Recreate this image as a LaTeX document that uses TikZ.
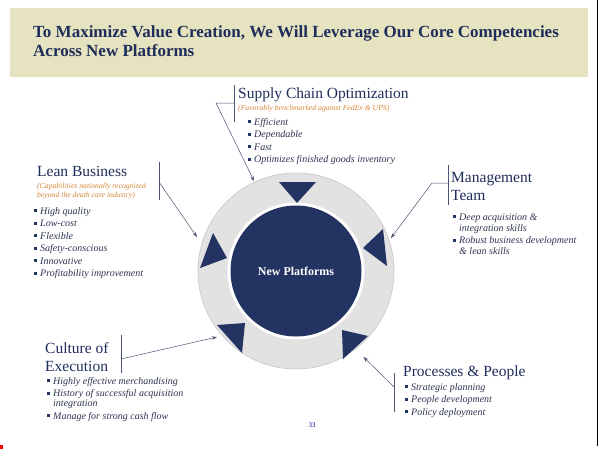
\documentclass[tikz,border=0pt]{standalone}
\usepackage{fontspec}
\setmainfont{Liberation Serif}
\usetikzlibrary{arrows.meta, positioning}
\definecolor{banner}{RGB}{230,228,192}
\definecolor{navy}{RGB}{31,45,90}
\definecolor{deepnavy}{RGB}{35,52,99}
\definecolor{txtgray}{RGB}{45,52,80}
\definecolor{subor}{RGB}{214,134,56}
\definecolor{linec}{RGB}{75,85,115}
\definecolor{ringgray}{RGB}{226,226,226}
\newcommand{\bsq}{\makebox[6pt][l]{\textcolor{deepnavy}{\rule[0.2em]{3pt}{3pt}}}}
\newcommand{\nsq}{\hspace*{6pt}}
\tikzset{
  head/.style={anchor=base west, inner sep=0pt, text=navy, font=\fontsize{15.5}{18}\selectfont},
  sub/.style={anchor=base west, inner sep=0pt, text=subor, font=\fontsize{7.7}{9}\selectfont\itshape},
  item/.style={anchor=base west, inner sep=0pt, text=txtgray, font=\fontsize{10}{12}\selectfont\itshape},
  bar/.style={linec, line width=0.8pt},
  conn/.style={linec, line width=0.5pt, -{Stealth[length=5pt,width=3.5pt]}},
  tri/.style={fill=deepnavy},
}
\begin{document}
\begin{tikzpicture}[x=1pt,y=-1pt]
\useasboundingbox (0,0) rectangle (599,450);
\fill[white] (0,0) rectangle (599,450);
% banner
\fill[banner] (10,8) rectangle (588,77);
\node[anchor=base west, inner sep=0pt, text=navy, font=\fontsize{17}{19}\selectfont\bfseries] (title1) at (33,37) {To Maximize Value Creation, We Will Leverage Our Core Competencies};
\node[anchor=base west, inner sep=0pt, text=navy, font=\fontsize{17}{19}\selectfont\bfseries] (title2) at (33,56) {Across New Platforms};
\draw[black, line width=1pt] (597.5,0) -- (597.5,446);
\fill[red] (0,445) rectangle (3,449);

% hub
\coordinate (hub) at (296,271);
\fill[ringgray] (hub) circle[radius=98pt];
\draw[gray!45, line width=0.6pt] (hub) circle[radius=98pt];
\fill[white] (hub) circle[radius=68.5pt];
\node[circle, fill=deepnavy, minimum size=131pt, inner sep=0pt, text=white, font=\fontsize{12}{14}\selectfont\bfseries] (plat) at (hub) {New Platforms};
\fill[tri] (279,182) -- (316,182) -- (297,203) -- cycle;
\fill[tri] (213,233) -- (227,258) -- (200,268) -- cycle;
\fill[tri] (383,229) -- (387,266) -- (363,248) -- cycle;
\fill[tri] (217,325) -- (245,323) -- (242,353) -- cycle;
\fill[tri] (342,330) -- (368,336) -- (343,359) -- cycle;

% supply chain
\node[head] (sco) at (238,98.5) {Supply Chain Optimization};
\node[sub] (sco-s) at (238,110) {(Favorably benchmarked against FedEx \& UPS)};
\foreach \t [count=\i] in {Efficient, Dependable, Fast, Optimizes finished goods inventory}
  \node[item] (sco-\i) at (248,112.5+12.5*\i) {\bsq\t};
\coordinate (sco-bt) at (234,85);
\coordinate (sco-bb) at (234,122);
\coordinate (sco-j) at (234,103);
\coordinate (sco-k) at (216,103);
\coordinate (sco-tip) at (254,181);
\draw[bar] (sco-bt) -- (sco-bb);
\draw[conn] (sco-j) -- (sco-k) -- (sco-tip);

% lean business
\node[head] (lean) at (37,176) {Lean Business};
\node[sub] (lean-s1) at (37,188) {(Capabilities nationally recognized};
\node[sub] (lean-s2) at (37,197) {beyond the death care industry)};
\foreach \t [count=\i] in {High quality, Low-cost, Flexible, Safety-conscious, Innovative, Profitability improvement}
  \node[item] (lean-\i) at (34,201.5+12.5*\i) {\bsq\t};
\coordinate (lean-bt) at (159,162);
\coordinate (lean-bb) at (159,200);
\coordinate (lean-j) at (159,182);
\coordinate (lean-tip) at (197,237);
\draw[bar] (lean-bt) -- (lean-bb);
\draw[conn] (lean-j) -- (lean-tip);

% management team
\node[head] (mgmt) at (451,182) {Management};
\node[head] (mgmt2) at (451,200) {Team};
\node[item] (mgmt-1) at (453,220) {\bsq Deep acquisition \&};
\node[item] (mgmt-1b) at (453,231) {\nsq integration skills};
\node[item] (mgmt-2) at (453,243.5) {\bsq Robust business development};
\node[item] (mgmt-2b) at (453,254.5) {\nsq\& lean skills};
\coordinate (mgmt-bt) at (448,165);
\coordinate (mgmt-bb) at (448,205);
\coordinate (mgmt-j) at (448,183);
\coordinate (mgmt-k) at (432,183);
\coordinate (mgmt-tip) at (391,238);
\draw[bar] (mgmt-bt) -- (mgmt-bb);
\draw[conn] (mgmt-j) -- (mgmt-k) -- (mgmt-tip);

% culture of execution
\node[head] (cult) at (45,353) {Culture of};
\node[head] (cult2) at (45,371) {Execution};
\node[item] (cult-1) at (47,384) {\bsq Highly effective merchandising};
\node[item] (cult-2) at (47,396.5) {\bsq History of successful acquisition};
\node[item] (cult-2b) at (47,406.5) {\nsq integration};
\node[item] (cult-3) at (47,419) {\bsq Manage for strong cash flow};
\coordinate (cult-bt) at (121,335);
\coordinate (cult-bb) at (121,373);
\coordinate (cult-j) at (121,359);
\coordinate (cult-tip) at (217,337);
\draw[bar] (cult-bt) -- (cult-bb);
\draw[conn] (cult-j) -- (cult-tip);

% processes and people
\node[head] (proc) at (403,376) {Processes \& People};
\foreach \t [count=\i] in {Strategic planning, People development, Policy deployment}
  \node[item] (proc-\i) at (405,377.5+12.5*\i) {\bsq\t};
\coordinate (proc-bt) at (394,373);
\coordinate (proc-bb) at (394,412);
\coordinate (proc-j) at (394,387);
\coordinate (proc-tip) at (363.5,357);
\draw[bar] (proc-bt) -- (proc-bb);
\draw[conn] (proc-j) -- (proc-tip);

\node[font=\fontsize{7}{8}\selectfont, text=blue!60!black] (pgno) at (312,425) {33};
\end{tikzpicture}
\end{document}
